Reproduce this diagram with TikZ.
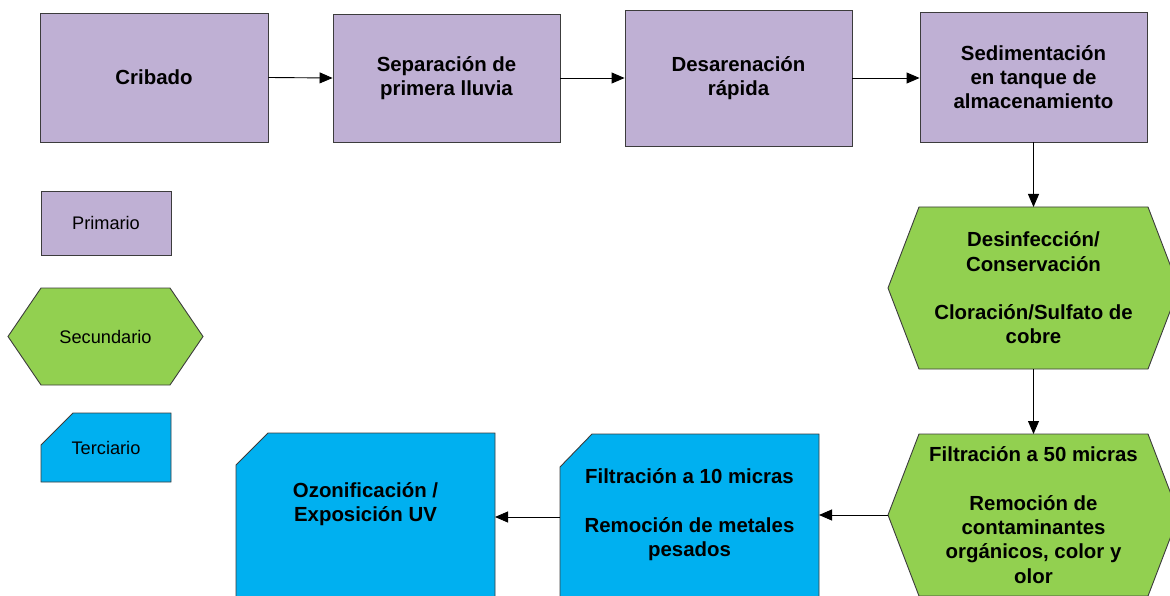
\documentclass[tikz,border=0pt]{standalone}
\usepackage{fontspec}
\setmainfont{Liberation Sans}
\usetikzlibrary{arrows.meta,backgrounds}
\definecolor{prim}{RGB}{191,176,212}
\definecolor{sec}{RGB}{146,208,80}
\definecolor{ter}{RGB}{0,176,240}
\definecolor{edgegray}{RGB}{60,60,60}
\newcommand\mainfnt{\fontsize{20.4}{24.3}\selectfont\bfseries}
\newcommand\legfnt{\fontsize{18.2}{22}\selectfont}
\begin{document}
\begin{tikzpicture}[x=1pt,y=-1pt,
  boxtxt/.style={align=center,font=\mainfnt,inner sep=0pt},
  primbox/.style={boxtxt,draw=edgegray,fill=prim,line width=0.9pt},
  frame/.style={boxtxt,draw=none,outer sep=0pt},
  plaintxt/.style={align=center,font=\mainfnt,inner sep=0pt},
  secfill/.style={draw=edgegray,fill=sec,line width=0.9pt,line join=miter},
  terfill/.style={draw=edgegray,fill=ter,line width=0.9pt,line join=miter},
  flow/.style={-{Triangle[length=13pt,width=11pt]},line width=0.9pt,black}]
\useasboundingbox (0,0) rectangle (1170,596);
% top row (primary)
\node[primbox,minimum width=228pt,minimum height=129pt] (crib) at (154,77.5) {Cribado};
\node[primbox,minimum width=227pt,minimum height=128pt] (sep) at (446.5,78) {Separación de\\primera lluvia};
\node[primbox,minimum width=227pt,minimum height=136pt] (desa) at (738.5,78) {Desarenación\\rápida};
\node[primbox,minimum width=227pt,minimum height=130pt] (sed) at (1033.5,77) {Sedimentación\\en tanque de\\almacenamiento};
% legend
\node[primbox,font=\legfnt,minimum width=130pt,minimum height=64pt] (lprim) at (106,223) {Primario};
\node[frame,font=\legfnt,minimum width=195pt,minimum height=97pt] (lsec) at (105.5,336.5) {Secundario};
\node[frame,font=\legfnt,minimum width=130pt,minimum height=69pt] (lter) at (106,447.5) {Terciario};
% secondary
\node[frame,minimum width=291pt,minimum height=162pt] (desi) at (1033.5,288) {Desinfección/\\Conservación\\[24pt]Cloración/Sulfato de\\cobre};
\node[frame,minimum width=291pt,minimum height=162pt] (f50) at (1033.5,515) {Filtración a 50 micras\\[24.3pt]Remoción de\\contaminantes\\orgánicos, color y\\olor};
% tertiary
\node[frame,minimum width=259pt,minimum height=166pt] (f10) at (689.5,517) {};
\node[plaintxt] (f10t) at (689.5,514.5) {Filtración a 10 micras\\[24.3pt]Remoción de metales\\pesados};
\node[frame,minimum width=259pt,minimum height=167pt] (oz) at (365.5,516.5) {};
\node[plaintxt] (ozt) at (365.5,504) {Ozonificación /\\Exposición UV};
\begin{pgfonlayer}{background}
\filldraw[secfill] ([xshift=33pt]lsec.north west) -- ([xshift=-33pt]lsec.north east) -- (lsec.east) -- ([xshift=-33pt]lsec.south east) -- ([xshift=33pt]lsec.south west) -- (lsec.west) -- cycle;
\filldraw[secfill] ([xshift=31pt]desi.north west) -- ([xshift=-31pt]desi.north east) -- (desi.east) -- ([xshift=-31pt]desi.south east) -- ([xshift=31pt]desi.south west) -- (desi.west) -- cycle;
\filldraw[secfill] ([xshift=31pt]f50.north west) -- ([xshift=-31pt]f50.north east) -- (f50.east) -- ([xshift=-31pt]f50.south east) -- ([xshift=31pt]f50.south west) -- (f50.west) -- cycle;
\filldraw[terfill] ([yshift=-32pt]lter.north west) -- ([xshift=32pt]lter.north west) -- (lter.north east) -- (lter.south east) -- (lter.south west) -- cycle;
\filldraw[terfill] ([yshift=-33pt]f10.north west) -- ([xshift=32pt]f10.north west) -- (f10.north east) -- (f10.south east) -- (f10.south west) -- cycle;
\filldraw[terfill] ([yshift=-32pt]oz.north west) -- ([xshift=32pt]oz.north west) -- (oz.north east) -- (oz.south east) -- (oz.south west) -- cycle;
\end{pgfonlayer}
% connectors
\draw[flow] (crib.east) -- (sep.west);
\draw[flow] (sep.east) -- (desa.west);
\draw[flow] (desa.east) -- (desa.east -| sed.west);
\draw[flow] (sed.south) -- (desi.north);
\draw[flow] (desi.south) -- (f50.north);
\draw[flow] (f50.west) -- (f50.west -| f10.east);
\draw[flow] (f10.west) -- (f10.west -| oz.east);
\end{tikzpicture}
\end{document}
